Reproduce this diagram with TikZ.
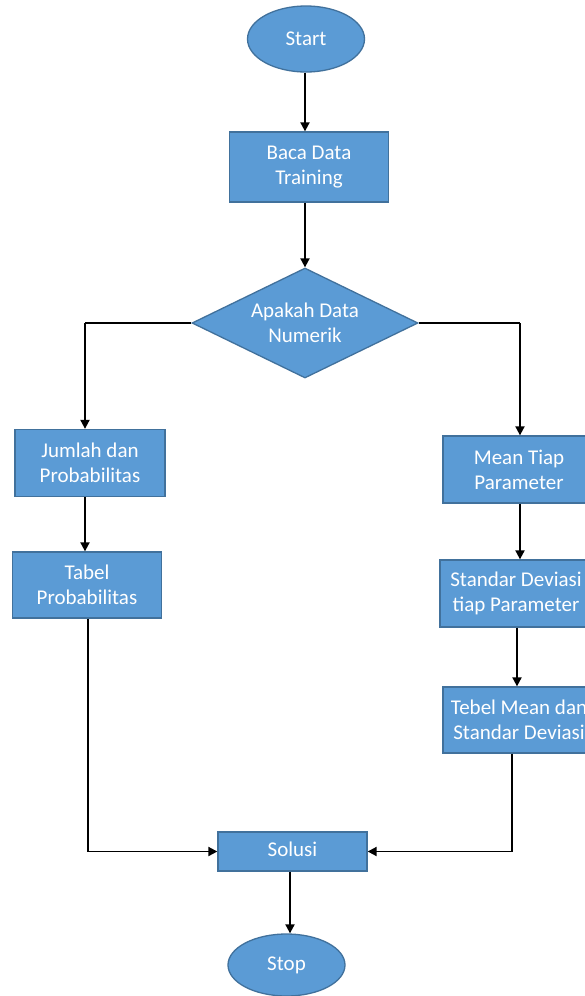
\documentclass[tikz,border=0pt]{standalone}
\usepackage{fontspec}
\setmainfont{Carlito}
\usetikzlibrary{shapes.geometric,arrows.meta}
\definecolor{boxfill}{HTML}{5B9BD5}
\definecolor{boxline}{HTML}{41719C}
\tikzset{
  base/.style={fill=boxfill,draw=boxline,line width=1.3pt,text=white,inner sep=0pt,
    font=\fontsize{21}{25}\selectfont,align=center},
  proc/.style={base,rectangle},
  term/.style={base,ellipse},
  dec/.style={base,diamond},
  conn/.style={line width=1.9pt,-{Triangle[length=9pt,width=9pt]}},
  plain/.style={line width=1.9pt}
}
\begin{document}
\begin{tikzpicture}[x=1pt,y=-1pt]
\useasboundingbox (0,0) rectangle (585,996);
\clip (0,0) rectangle (585,996);
\fill[white] (0,0) rectangle (585,996);
\node[term,minimum width=117pt,minimum height=66pt] (start) at (306,39) {Start};
\node[proc,minimum width=159pt,minimum height=70pt] (baca) at (309,167) {Baca Data\\Training};
\node[dec,minimum width=226pt,minimum height=110pt,aspect=2.05] (dec) at (305,323) {Apakah Data\\Numerik};
\node[proc,minimum width=150pt,minimum height=67pt] (jumlah) at (90,463) {Jumlah dan\\Probabilitas};
\node[proc,minimum width=149pt,minimum height=66pt] (tabel) at (87,585) {Tabel\\Probabilitas};
\node[proc,minimum width=152pt,minimum height=67pt] (mean) at (519,469.5) {Mean Tiap\\Parameter};
\node[proc,minimum width=152pt,minimum height=67pt] (std) at (516,593.5) {Standar Deviasi\\tiap Parameter};
\node[proc,minimum width=152pt,minimum height=66pt] (tebel) at (519,720) {Tebel Mean dan\\Standar Deviasi};
\node[proc,minimum width=149pt,minimum height=39pt] (solusi) at (292.5,851.5) {\raisebox{4pt}{Solusi}};
\node[term,minimum width=117pt,minimum height=62pt] (stop) at (286.5,965) {Stop};
\coordinate (lc) at (85,323);
\coordinate (rc) at (520,323);
\coordinate (lb) at (88,851.5);
\coordinate (rb) at (512,851.5);
\draw[conn] (start.south -| 305,0) -- (baca.north -| 305,0);
\draw[conn] (baca.south -| 305,0) -- (dec.north);
\draw[plain] (dec.west) -- (lc);
\draw[conn] (lc) -- (jumlah.north -| lc);
\draw[plain] (dec.east) -- (rc);
\draw[conn] (rc) -- (mean.north -| rc);
\draw[conn] (jumlah.south -| lc) -- (tabel.north -| lc);
\draw[conn] (mean.south -| rc) -- (std.north -| rc);
\draw[conn] (std.south -| 517,0) -- (tebel.north -| 517,0);
\draw[plain] (tabel.south -| lb) -- (lb);
\draw[conn] (lb) -- (solusi.west);
\draw[plain] (tebel.south -| rb) -- (rb);
\draw[conn] (rb) -- (solusi.east);
\draw[conn] (solusi.south -| 290,0) -- (stop.north -| 290,0);
\end{tikzpicture}
\end{document}
